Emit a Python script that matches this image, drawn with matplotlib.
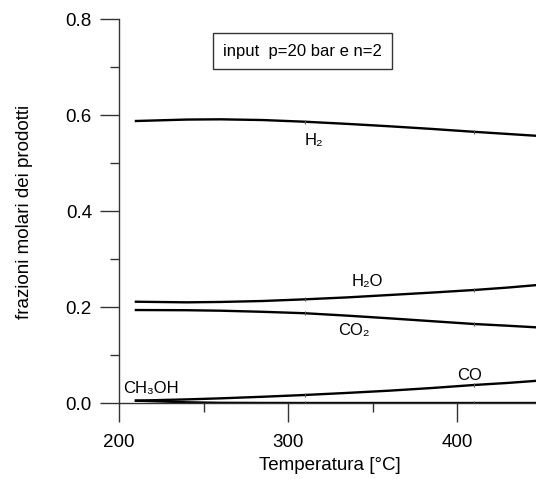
import matplotlib
matplotlib.use('Agg')
import matplotlib.pyplot as plt
from matplotlib.ticker import MultipleLocator, FormatStrFormatter

plt.rcParams['font.family'] = ['Liberation Sans', 'DejaVu Sans']

# temperature [C]
temp = [210, 240, 260, 285, 310, 335, 360, 385, 410, 430, 450]
# molar fractions
h2 = [0.5875, 0.5905, 0.591, 0.5895, 0.586, 0.5815, 0.5765, 0.571, 0.565, 0.5605, 0.556]
h2o = [0.211, 0.2097, 0.2105, 0.2125, 0.216, 0.220, 0.225, 0.230, 0.2354, 0.2405, 0.2465]
co2 = [0.1937, 0.1933, 0.1923, 0.190, 0.187, 0.182, 0.1764, 0.1705, 0.1646, 0.161, 0.157]
co = [0.0049, 0.0075, 0.0097, 0.013, 0.0167, 0.021, 0.0257, 0.0312, 0.0375, 0.0418, 0.047]
ch3oh = [0.0049, 0.0015, 0.0004, 0.0001, 0.0, 0.0, 0.0, 0.0, 0.0, 0.0, 0.0]

series = [h2, h2o, co2, co, ch3oh]
labels = ['H₂', 'H₂O', 'CO₂', 'CO', 'CH₃OH']
label_pos = [(310.1, 0.5375), (337.9, 0.2437), (329.6, 0.1417), (400.0, 0.0479), (202.4, 0.0208)]

fig = plt.figure(figsize=(5.36, 4.79), dpi=100)
ax = fig.add_axes([119/536, 1-403/479, 1-119/536, (403-19)/479])

for s in series:
    ax.plot(temp, s, color='black', lw=1.7, solid_joinstyle='round')
    ax.plot(temp, s, ls='none', marker='|', ms=3, color='#555555', mew=0.8, markevery=[4, 8])

for lab, (x, y) in zip(labels, label_pos):
    ax.text(x, y, lab, fontsize=12, ha='left', va='baseline')

ax.text(261.5, 0.733, 'input  p=20 bar e n=2', fontsize=12, ha='left', va='center',
        bbox=dict(boxstyle='square,pad=0.62', fc='white', ec='#333333', lw=1))

ax.set_xlim(200, 200 + (536-119)/169*100)
ax.set_ylim(0, 0.8)
ax.xaxis.set_major_locator(MultipleLocator(100))
ax.xaxis.set_minor_locator(MultipleLocator(50))
ax.yaxis.set_major_locator(MultipleLocator(0.2))
ax.yaxis.set_minor_locator(MultipleLocator(0.1))
ax.yaxis.set_major_formatter(FormatStrFormatter('%.1f'))
ax.spines['top'].set_visible(False)
ax.spines['right'].set_visible(False)
for sp in ['left', 'bottom']:
    ax.spines[sp].set_color('#333333')
    ax.spines[sp].set_linewidth(1)
ax.tick_params(which='major', direction='out', length=13.5, width=1, color='#333333', labelsize=13.5)
ax.tick_params(axis='x', which='major', pad=9)
ax.tick_params(axis='y', which='major', pad=6)
ax.tick_params(which='minor', direction='out', length=6.5, width=1, color='#333333')

fig.text(330/536, 1-466/479, 'Temperatura [°C]', fontsize=13.5, ha='center', va='center')
fig.text(25/536, 1-211.5/479, 'frazioni molari dei prodotti', fontsize=13.5, rotation=90,
         ha='center', va='center')

fig.savefig('out.png', dpi=100)
